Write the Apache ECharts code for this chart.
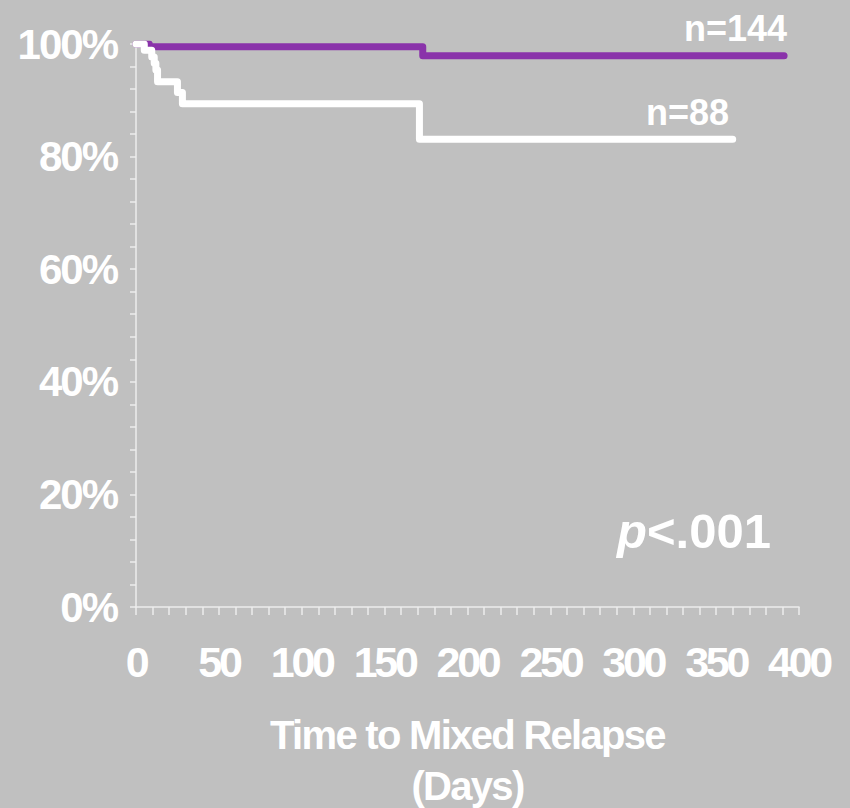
<!DOCTYPE html>
<html>
<head>
<meta charset="utf-8">
<script src="https://cdn.jsdelivr.net/npm/echarts@6/dist/echarts.min.js"></script>
<style>
html,body{margin:0;padding:0;background:#c0c0c0;}
#chart{width:850px;height:808px;}
/* tighter tracking like the reference typography */
#chart text[style*="43px"]{letter-spacing:-3.3px;}
#chart text[style*="42px"]{letter-spacing:-2px;}
#chart text[style*="40px"]{letter-spacing:-1.7px;}
</style>
</head>
<body>
<div id="chart"></div>
<script>
// Kaplan-Meier style data: [day, percent without mixed relapse]
const groupA_label = 'n=144';
const groupA = [[0,100],[8,99.5],[173,97.9],[391,97.9]];
const groupB_label = 'n=88';
const groupB = [[0,100],[5,98.9],[9.5,97.7],[11,96.6],[12,95.4],[13,93.3],[25,91.4],[28,89.4],[171,83.1],[360,83.1]];
const pValueText = '<.001';
const xAxisTitle = 'Time to Mixed Relapse\n(Days)';
const xTickLabels = [0,50,100,150,200,250,300,350,400];
const yTickLabels = [0,20,40,60,80,100];

const sans = '"Liberation Sans", Arial, sans-serif';
const axisCol = '#ececec';

const chart = echarts.init(document.getElementById('chart'), null, {renderer:'svg'});
chart.setOption({
  backgroundColor: '#c0c0c0',
  animation: false,
  grid: {left:136, right:51, top:44, bottom:201, containLabel:false, outerBoundsMode:'none'},
  xAxis: {
    type:'value', min:0, max:400, interval:10,
    axisLine:{show:true, lineStyle:{color:axisCol, width:1.5}},
    axisTick:{show:true, length:8, lineStyle:{color:axisCol, width:1.5}},
    splitLine:{show:false},
    axisLabel:{
      margin:33, color:'#ffffff', fontFamily:sans, fontWeight:'bold', fontSize:43,
      formatter: v => xTickLabels.includes(v) ? String(v) : '',
      showMinLabel:true, showMaxLabel:true, hideOverlap:false
    },
    name: xAxisTitle, nameLocation:'middle', nameGap:102,
    nameTextStyle:{color:'#ffffff', fontFamily:sans, fontWeight:'bold', fontSize:40, lineHeight:51}
  },
  yAxis: {
    type:'value', min:0, max:100, interval:4,
    axisLine:{show:true, lineStyle:{color:axisCol, width:1.5}},
    axisTick:{show:true, length:6, lineStyle:{color:axisCol, width:1.5}},
    splitLine:{show:false},
    axisLabel:{
      margin:19, color:'#ffffff', fontFamily:sans, fontWeight:'bold', fontSize:42,
      formatter: v => yTickLabels.includes(v) ? v + '%' : '',
      showMinLabel:true, showMaxLabel:true, hideOverlap:false
    }
  },
  series: [
    {
      name: groupA_label, type:'line', step:'end', data: groupA, showSymbol:false, symbol:'none',
      lineStyle:{color:'#8a33aa', width:7, cap:'round', join:'round'}, z:2
    },
    {
      name: groupB_label, type:'line', step:'end', data: groupB, showSymbol:false, symbol:'none',
      lineStyle:{color:'#ffffff', width:7, cap:'round', join:'round'}, z:3
    }
  ],
  graphic: [
    {type:'text', right:850-787, top:10, style:{text:groupA_label, fill:'#ffffff', font:'bold 36px ' + sans}},
    {type:'text', right:850-729, top:94, style:{text:groupB_label, fill:'#ffffff', font:'bold 36px ' + sans}},
    {type:'text', left:617, top:506, style:{
      text:'{p|p}{r|' + pValueText + '}',
      rich:{
        p:{fill:'#ffffff', fontFamily:sans, fontWeight:'bold', fontStyle:'italic', fontSize:49},
        r:{fill:'#ffffff', fontFamily:sans, fontWeight:'bold', fontSize:49}
      }
    }}
  ]
});
</script>
</body>
</html>
